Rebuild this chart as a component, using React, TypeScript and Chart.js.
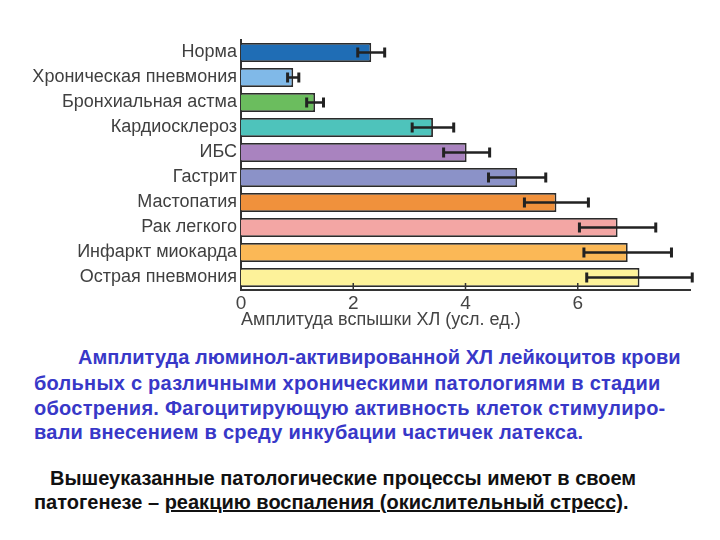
import React, { useEffect, useRef } from "react";
import { Chart, registerables } from "chart.js";

Chart.register(...registerables);

const categories = [
  "Норма",
  "Хроническая пневмония",
  "Бронхиальная астма",
  "Кардиосклероз",
  "ИБС",
  "Гастрит",
  "Мастопатия",
  "Рак легкого",
  "Инфаркт миокарда",
  "Острая пневмония",
];
const values = [2.32, 0.93, 1.32, 3.42, 4.02, 4.92, 5.62, 6.71, 6.89, 7.1];
const errors = [0.24, 0.1, 0.15, 0.37, 0.41, 0.51, 0.57, 0.68, 0.78, 0.94];
const barColors = [
  "#1f6db5",
  "#80b9e8",
  "#6bbd5e",
  "#4ec3bb",
  "#a983bf",
  "#8b92c8",
  "#f0913c",
  "#f3a6a4",
  "#fbb856",
  "#fdf29a",
];
const xTickValues = [0, 2, 4, 6];
const xTitle = "Амплитуда вспышки ХЛ (усл. ед.)";

const errorBarPlugin = {
  id: "errorBars",
  afterDatasetsDraw(chart: any) {
    const ctx = chart.ctx;
    const x = chart.scales.x;
    const meta = chart.getDatasetMeta(0);
    ctx.save();
    ctx.strokeStyle = "#222";
    ctx.lineWidth = 2.5;
    meta.data.forEach((bar: any, i: number) => {
      const lo = x.getPixelForValue(values[i] - errors[i]);
      const hi = x.getPixelForValue(values[i] + errors[i]);
      const y = bar.y;
      ctx.beginPath();
      ctx.moveTo(lo, y);
      ctx.lineTo(hi, y);
      ctx.stroke();
      ctx.lineWidth = 3;
      ctx.beginPath();
      ctx.moveTo(lo, y - 5);
      ctx.lineTo(lo, y + 5);
      ctx.moveTo(hi, y - 5);
      ctx.lineTo(hi, y + 5);
      ctx.stroke();
      ctx.lineWidth = 2.5;
    });
    ctx.restore();
  },
};

const inwardTicksPlugin = {
  id: "inwardTicks",
  afterDraw(chart: any) {
    const ctx = chart.ctx;
    const x = chart.scales.x;
    const bottom = chart.chartArea.bottom;
    ctx.save();
    ctx.strokeStyle = "#333";
    ctx.lineWidth = 1.5;
    xTickValues.forEach((v) => {
      if (v === 0) return;
      const px = x.getPixelForValue(v);
      ctx.beginPath();
      ctx.moveTo(px, bottom);
      ctx.lineTo(px, bottom - 7);
      ctx.stroke();
    });
    ctx.restore();
  },
};

function BarChart() {
  const ref = useRef<HTMLCanvasElement | null>(null);
  useEffect(() => {
    if (!ref.current) return;
    const chart = new Chart(ref.current, {
      type: "bar",
      data: {
        labels: categories,
        datasets: [
          {
            data: values,
            backgroundColor: barColors,
            borderColor: "#2b2b2b",
            borderWidth: 1.8,
            categoryPercentage: 1,
            barPercentage: 0.76,
          },
        ],
      },
      options: {
        indexAxis: "y",
        responsive: false,
        animation: false,
        layout: { padding: { left: 0, right: 30, top: 40, bottom: 0 } },
        plugins: {
          legend: { display: false },
          tooltip: { enabled: false },
        },
        scales: {
          x: {
            min: 0,
            max: 8,
            afterFit: (s: any) => {
              s.height = 50;
            },
            grid: { display: false, drawTicks: false },
            border: { display: true, color: "#333", width: 2 },
            ticks: {
              stepSize: 2,
              padding: 2,
              color: "#444",
              font: { family: "Liberation Sans, Arial, sans-serif", size: 19 },
              callback: (v: any) => (xTickValues.includes(Number(v)) ? String(v) : ""),
            },
            title: {
              display: true,
              text: xTitle,
              align: "start",
              color: "#444",
              font: { family: "Liberation Sans, Arial, sans-serif", size: 18 },
              padding: { top: 0, bottom: 9 },
            },
          },
          y: {
            afterFit: (s: any) => {
              s.width = 241;
            },
            grid: { display: false, drawTicks: false },
            border: { display: true, color: "#333", width: 2 },
            ticks: {
              padding: 4,
              color: "#404040",
              font: { family: "Liberation Sans, Arial, sans-serif", size: 18 },
            },
          },
        },
      },
      plugins: [errorBarPlugin, inwardTicksPlugin],
    } as any);
    return () => chart.destroy();
  }, []);
  return <canvas ref={ref} width={720} height={340} style={{ display: "block" }} />;
}

const lineStyle: React.CSSProperties = {
  position: "absolute",
  whiteSpace: "nowrap",
  fontFamily: "Liberation Sans, Arial, sans-serif",
  fontWeight: "bold",
  fontSize: 20,
  lineHeight: "22px",
};

export default function App() {
  const blue = "#3838c8";
  return (
    <div
      style={{
        position: "fixed",
        left: 0,
        top: 0,
        width: 720,
        height: 540,
        background: "#fff",
        overflow: "hidden",
      }}
    >
      <div style={{ position: "absolute", left: 0, top: 0 }}>
        <BarChart />
      </div>
      <div style={{ ...lineStyle, left: 78, top: 346, color: blue, letterSpacing: 0.05 }}>
        Амплитуда люминол-активированной ХЛ лейкоцитов крови
      </div>
      <div style={{ ...lineStyle, left: 34, top: 372, color: blue, letterSpacing: 0.25 }}>
        больных с различными хроническими патологиями в стадии
      </div>
      <div style={{ ...lineStyle, left: 34, top: 397, color: blue, letterSpacing: 0.25 }}>
        обострения. Фагоцитирующую активность клеток стимулиро-
      </div>
      <div style={{ ...lineStyle, left: 34, top: 421, color: blue, letterSpacing: 0.25 }}>
        вали внесением в среду инкубации частичек латекса.
      </div>
      <div style={{ ...lineStyle, left: 50, top: 467, color: "#111" }}>
        Вышеуказанные патологические процессы имеют в своем
      </div>
      <div style={{ ...lineStyle, left: 34, top: 491, color: "#111" }}>
        патогенезе – <span style={{ textDecoration: "underline" }}>реакцию воспаления (окислительный стресс)</span>.
      </div>
    </div>
  );
}
